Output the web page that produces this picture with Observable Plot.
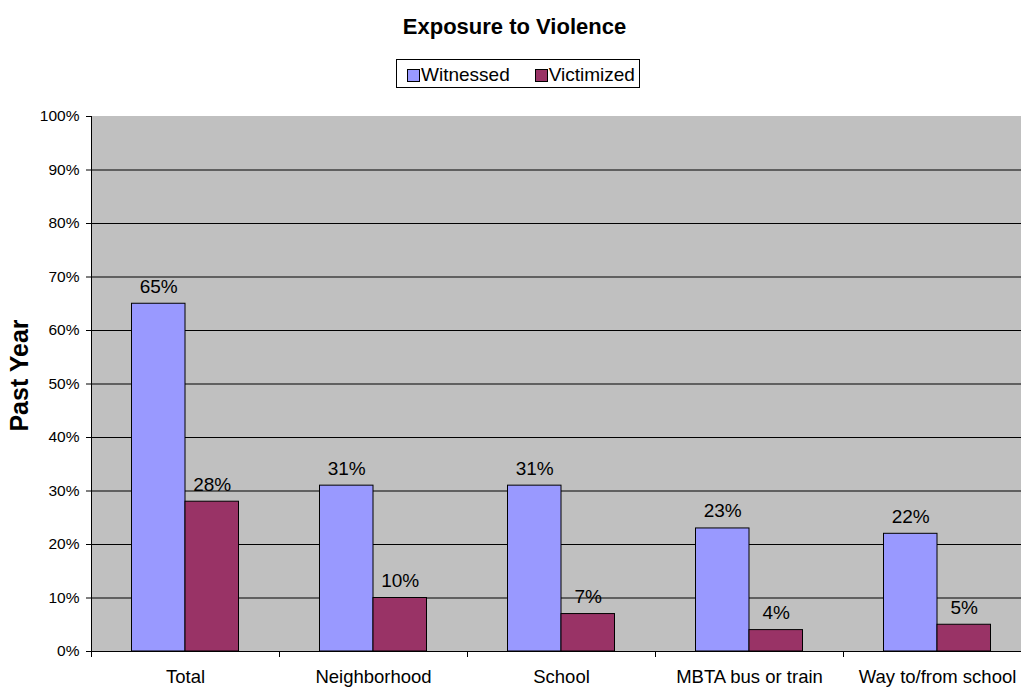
<!DOCTYPE html>
<html>
<head>
<meta charset="utf-8">
<script src="https://cdn.jsdelivr.net/npm/d3@7"></script>
<script src="https://cdn.jsdelivr.net/npm/@observablehq/plot@0.6"></script>
<style>
  html, body { margin: 0; padding: 0; background: white; overflow: hidden; width: 1021px; height: 687px; }
  body { position: relative; font-family: "Liberation Sans", Arial, sans-serif; }
  #title { position: absolute; left: 0; width: 1029px; top: 14px; text-align: center; font-weight: bold; font-size: 22px; color: #000; }
  #legend { position: absolute; left: 396px; top: 59px; width: 244px; height: 29px; border: 1px solid #000; box-sizing: border-box; background: #fff; font-size: 19px; display: flex; align-items: center; padding-top: 3px; color: #000; }
  .item { display: flex; align-items: center; }
  .sw { width: 11px; height: 11px; border: 1px solid #000; margin-right: 1px; }
  #chart { position: absolute; left: 0; top: 0; }
</style>
</head>
<body>
<div id="chart"></div>
<div id="title"></div>
<div id="legend"></div>
<script>
const categories = ["Total", "Neighborhood", "School", "MBTA bus or train", "Way to/from school"];
const witnessed = [0.65, 0.31, 0.31, 0.23, 0.22];
const victimized = [0.28, 0.10, 0.07, 0.04, 0.05];
const seriesNames = ["Witnessed", "Victimized"];
const seriesColors = ["#9999FF", "#993366"];
const yTicks = [0, 0.1, 0.2, 0.3, 0.4, 0.5, 0.6, 0.7, 0.8, 0.9, 1.0];
const gridTicks = [0.1, 0.2, 0.3, 0.4, 0.5, 0.6, 0.7, 0.8, 0.9];
const titleText = "Exposure to Violence";
const yLabel = "Past Year";

document.getElementById("title").textContent = titleText;
const leg = document.getElementById("legend");
seriesNames.forEach((n, i) => {
  const it = document.createElement("div");
  it.className = "item";
  it.style.marginLeft = i === 0 ? "10px" : "25px";
  const sw = document.createElement("div");
  sw.className = "sw";
  sw.style.background = seriesColors[i];
  const t = document.createElement("span");
  t.textContent = n;
  it.appendChild(sw); it.appendChild(t);
  leg.appendChild(it);
});

const rows = categories.map((c, i) => ({category: c, witnessed: witnessed[i], victimized: victimized[i]}));
const pctFmt = d3.format(".0%");

const band = 188;
const barW = 53.5;
const outer = (band - 2 * barW) / 2;

const chart = Plot.plot({
  width: 1031,
  height: 687,
  marginLeft: 91,
  marginRight: 0,
  marginTop: 116,
  marginBottom: 36,
  style: {fontFamily: "Liberation Sans, Arial, sans-serif", background: "transparent", maxWidth: "none", color: "#000"},
  x: {domain: categories, padding: 0, label: null},
  y: {domain: [0, 1], label: null},
  marks: [
    Plot.rect([0], {x1: () => categories[0], x2: () => categories[4], y1: 0, y2: 1, fill: "#C0C0C0", insetRight: -band}),
    Plot.ruleY(gridTicks, {stroke: "#000", strokeWidth: 1}),
    Plot.barY(rows, {x: "category", y: "witnessed", fill: seriesColors[0], stroke: "#000", strokeWidth: 1,
      insetLeft: outer, insetRight: band - outer - barW}),
    Plot.barY(rows, {x: "category", y: "victimized", fill: seriesColors[1], stroke: "#000", strokeWidth: 1,
      insetLeft: outer + barW, insetRight: outer}),
    Plot.text(rows, {x: "category", y: "witnessed", text: d => pctFmt(d.witnessed), dx: -barW / 2, dy: -11,
      lineAnchor: "bottom", fontSize: 19, fill: "#000"}),
    Plot.text(rows, {x: "category", y: "victimized", text: d => pctFmt(d.victimized), dx: barW / 2, dy: -11,
      lineAnchor: "bottom", fontSize: 19, fill: "#000"}),
    Plot.ruleX(categories, {x: d => d, dx: -band / 2, y1: 0, y2: 0, insetTop: 0, insetBottom: -6, stroke: "#000"}),
    Plot.ruleY([0], {stroke: "#000"}),
    Plot.ruleX([categories[0]], {dx: -band / 2, y1: 0, y2: 1, stroke: "#000"}),
    Plot.axisY({ticks: yTicks, tickFormat: pctFmt, tickSize: 5, tickPadding: 7, fontSize: 15.5, label: null}),
    Plot.axisX({tickSize: 0, tickPadding: 18.5, fontSize: 18.5, label: null}),
    Plot.text([yLabel], {frameAnchor: "left", textAnchor: "middle", dx: -72, dy: -8.5, rotate: -90,
      fontWeight: "bold", fontSize: 25, text: d => d, fill: "#000"})
  ]
});
document.getElementById("chart").appendChild(chart);
</script>
</body>
</html>
